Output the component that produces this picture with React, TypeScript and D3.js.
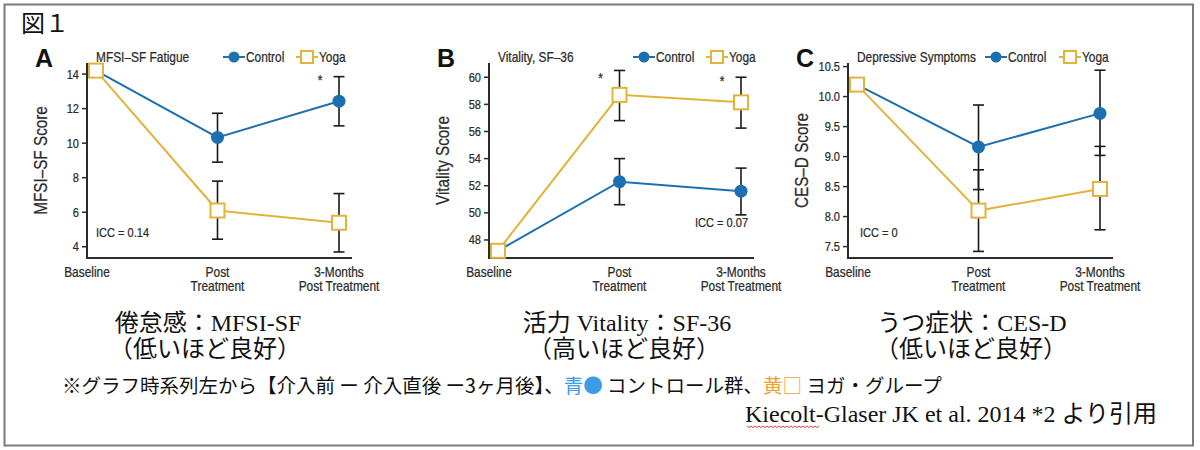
import React from "react";
import * as d3 from "d3";

// ---------- data ----------
const timepoints = ["Baseline", "Post|Treatment", "3-Months|Post Treatment"];

const fatigueControl = [14.2, 10.33, 12.43];
const fatigueControlLo = [null, 8.9, 11.0];
const fatigueControlHi = [null, 11.73, 13.85];
const fatigueYoga = [14.2, 6.1, 5.39];
const fatigueYogaLo = [null, 4.44, 3.7];
const fatigueYogaHi = [null, 7.8, 7.08];
const fatigueTicks = [4, 6, 8, 10, 12, 14];

const vitalityControl = [47.2, 52.3, 51.6];
const vitalityControlLo = [null, 50.6, 49.85];
const vitalityControlHi = [null, 54.0, 53.3];
const vitalityYoga = [47.2, 58.7, 58.15];
const vitalityYogaLo = [null, 56.8, 56.25];
const vitalityYogaHi = [null, 60.5, 60.0];
const vitalityTicks = [48, 50, 52, 54, 56, 58, 60];

const cesdControl = [10.2, 9.16, 9.72];
const cesdControlLo = [null, 8.45, 9.02];
const cesdControlHi = [null, 9.86, 10.44];
const cesdYoga = [10.2, 8.1, 8.46];
const cesdYogaLo = [null, 7.42, 7.78];
const cesdYogaHi = [null, 8.78, 9.17];
const cesdTicks = [7.5, 8.0, 8.5, 9.0, 9.5, 10.0, 10.5];

const BLUE = "#1c70b0";
const YELLOW = "#e2b33a";
const INK = "#2b2b2b";
const SANS = "'Liberation Sans', Arial, Helvetica, sans-serif";
const SERIF = "'Liberation Serif', 'Noto Sans CJK JP', serif";
const JP = "'Noto Sans CJK JP', sans-serif";
const SQ = 0.85;

type CTextProps = {
  x: number;
  y: number;
  size: number;
  anchor?: "start" | "middle" | "end";
  rotate?: number;
  children: React.ReactNode;
};

function CText({ x, y, size, anchor = "start", rotate = 0, children }: CTextProps) {
  return (
    <text
      transform={`translate(${x},${y}) rotate(${rotate}) scale(${SQ},1)`}
      textAnchor={anchor}
      fontFamily={SANS}
      fontSize={size}
      fill={INK}
      stroke={INK}
      strokeWidth={0.25}
    >
      {children}
    </text>
  );
}

type PanelProps = {
  letter: string;
  title: string;
  yTitle: string;
  left: number;
  domain: [number, number];
  ticks: number[];
  tickFmt: (v: number) => string;
  control: number[];
  controlLo: (number | null)[];
  controlHi: (number | null)[];
  yoga: number[];
  yogaLo: (number | null)[];
  yogaHi: (number | null)[];
  stars: number[];
  starY: number[];
  icc: string;
  iccX: number;
  iccY: number;
  legendX: number;
  yogaLegendX: number;
};

function Panel(p: PanelProps) {
  const top = 63;
  const bottom = 258;
  const x = d3.scalePoint<string>().domain(timepoints).range([p.left + 9, p.left + 252]);
  const y = d3.scaleLinear().domain(p.domain).range([bottom, top]);
  const line = d3
    .line<number>()
    .x((_, i) => x(timepoints[i]) as number)
    .y((d) => y(d));
  const errBar = (lo: (number | null)[], hi: (number | null)[], key: string) =>
    lo.map((l, i) => {
      const h = hi[i];
      if (l == null || h == null) return null;
      const cx = x(timepoints[i]) as number;
      return (
        <g key={key + i} stroke="#1a1a1a" strokeWidth={1.6}>
          <line x1={cx} x2={cx} y1={y(l)} y2={y(h)} />
          <line x1={cx - 5.5} x2={cx + 5.5} y1={y(l)} y2={y(l)} />
          <line x1={cx - 5.5} x2={cx + 5.5} y1={y(h)} y2={y(h)} />
        </g>
      );
    });
  const axisRight = p.left + 265;
  return (
    <g>
      <text x={p.left - 52} y={67} fontFamily={SANS} fontWeight="bold" fontSize={25} fill="#111">
        {p.letter}
      </text>
      <CText x={p.left + 9} y={62} size={14}>
        {p.title}
      </CText>
      {/* legend */}
      <line x1={p.legendX} x2={p.legendX + 22} y1={57} y2={57} stroke={BLUE} strokeWidth={2} />
      <circle cx={p.legendX + 11} cy={57} r={5.5} fill={BLUE} />
      <CText x={p.legendX + 23} y={62} size={14}>
        Control
      </CText>
      <line x1={p.yogaLegendX} x2={p.yogaLegendX + 22} y1={57} y2={57} stroke={YELLOW} strokeWidth={2} />
      <rect x={p.yogaLegendX + 5} y={51} width={12} height={12} fill="#fff" stroke={YELLOW} strokeWidth={2} />
      <CText x={p.yogaLegendX + 23} y={62} size={14}>
        Yoga
      </CText>
      {/* y axis title */}
      <CText x={p.left - 40} y={(top + bottom) / 2} size={18} anchor="middle" rotate={-90}>
        {p.yTitle}
      </CText>
      {/* axes */}
      <line x1={p.left} x2={p.left} y1={top} y2={bottom + 1} stroke={INK} strokeWidth={2} />
      <line x1={p.left - 1} x2={axisRight} y1={bottom} y2={bottom} stroke={INK} strokeWidth={2} />
      {p.ticks.map((t) => (
        <g key={t}>
          <line x1={p.left - 5} x2={p.left} y1={y(t)} y2={y(t)} stroke={INK} strokeWidth={1.5} />
          <CText x={p.left - 8} y={y(t) + 4.5} size={13} anchor="end">
            {p.tickFmt(t)}
          </CText>
        </g>
      ))}
      {timepoints.map((t, i) => {
        const parts = t.split("|");
        const cx = i === 0 ? p.left : (x(t) as number);
        return (
          <g key={t}>
            {parts.map((s, j) => (
              <CText key={j} x={cx} y={277 + j * 14} size={14} anchor="middle">
                {s}
              </CText>
            ))}
          </g>
        );
      })}
      <CText x={p.iccX} y={p.iccY} size={13}>
        {p.icc}
      </CText>
      {/* lines */}
      <path d={line(p.control) || ""} fill="none" stroke={BLUE} strokeWidth={2} />
      <path d={line(p.yoga) || ""} fill="none" stroke={YELLOW} strokeWidth={2} />
      {errBar(p.controlLo, p.controlHi, "c")}
      {errBar(p.yogaLo, p.yogaHi, "y")}
      {p.control.map((v, i) => (
        <circle key={"cc" + i} cx={x(timepoints[i]) as number} cy={y(v)} r={6.5} fill={BLUE} />
      ))}
      {p.yoga.map((v, i) => (
        <rect
          key={"yy" + i}
          x={(x(timepoints[i]) as number) - 7}
          y={y(v) - 7}
          width={14}
          height={14}
          fill="#fff"
          stroke={YELLOW}
          strokeWidth={2}
        />
      ))}
      {p.stars.map((si, k) => (
        <CText key={"s" + k} x={(x(timepoints[si]) as number) - 19} y={p.starY[k]} size={14} anchor="middle">
          *
        </CText>
      ))}
    </g>
  );
}

export default function App() {
  const fmt1 = (v: number) => d3.format(".1f")(v);
  const fmt0 = (v: number) => String(v);
  return (
    <svg width={1200} height={450} style={{ position: "absolute", left: 0, top: 0, background: "#fff" }}>
      <rect x={0} y={0} width={1200} height={450} fill="#fff" />
      <rect x={4.5} y={4.5} width={1188.5} height={441} fill="none" stroke="#7a7a7a" strokeWidth={2} />
      <text x={21} y={32} fontFamily={JP} fontSize={24} fill="#111">
        図１
      </text>

      <Panel
        letter="A"
        title="MFSI–SF Fatigue"
        yTitle="MFSI–SF Score"
        left={87}
        domain={[3.35, 14.64]}
        ticks={fatigueTicks}
        tickFmt={fmt0}
        control={fatigueControl}
        controlLo={fatigueControlLo}
        controlHi={fatigueControlHi}
        yoga={fatigueYoga}
        yogaLo={fatigueYogaLo}
        yogaHi={fatigueYogaHi}
        stars={[2]}
        starY={[85]}
        icc="ICC = 0.14"
        iccX={96}
        iccY={237}
        legendX={223}
        yogaLegendX={296}
      />
      <Panel
        letter="B"
        title="Vitality, SF–36"
        yTitle="Vitality Score"
        left={489}
        domain={[46.67, 61.05]}
        ticks={vitalityTicks}
        tickFmt={fmt0}
        control={vitalityControl}
        controlLo={vitalityControlLo}
        controlHi={vitalityControlHi}
        yoga={vitalityYoga}
        yogaLo={vitalityYogaLo}
        yogaHi={vitalityYogaHi}
        stars={[1, 2]}
        starY={[83, 86]}
        icc="ICC = 0.07"
        iccX={695}
        iccY={227}
        legendX={633}
        yogaLegendX={706}
      />
      <Panel
        letter="C"
        title="Depressive Symptoms"
        yTitle="CES–D Score"
        left={848}
        domain={[7.31, 10.56]}
        ticks={cesdTicks}
        tickFmt={fmt1}
        control={cesdControl}
        controlLo={cesdControlLo}
        controlHi={cesdControlHi}
        yoga={cesdYoga}
        yogaLo={cesdYogaLo}
        yogaHi={cesdYogaHi}
        stars={[]}
        starY={[]}
        icc="ICC = 0"
        iccX={860}
        iccY={237}
        legendX={985}
        yogaLegendX={1059}
      />

      {/* captions */}
      <g fontFamily={SERIF} fontSize={24} fill="#111" textAnchor="middle">
        <text x={208} y={331}>倦怠感：MFSI-SF</text>
        <text x={205} y={357}>（低いほど良好）</text>
        <text x={627} y={331}>活力 Vitality：SF-36</text>
        <text x={624} y={357}>（高いほど良好）</text>
        <text x={972} y={331}>うつ症状：CES-D</text>
        <text x={971} y={357}>（低いほど良好）</text>
      </g>
      <text x={62} y={393} fontFamily={JP} fontSize={19.5} fill="#111">
        <tspan>※グラフ時系列左から【介入前 ー 介入直後 ー3ヶ月後】、</tspan>
        <tspan fill="#3a9be6">青●</tspan>
        <tspan> コントロール群、</tspan>
        <tspan fill="#f0a02c">黄□</tspan>
        <tspan> ヨガ・グループ</tspan>
      </text>
      <text x={745} y={422} fontFamily={SERIF} fontSize={24} fill="#111">
        Kiecolt-Glaser JK et al. 2014 *2 より引用
      </text>
      <path
        d={d3.range(0, 37).map((i) => `${i === 0 ? "M" : "L"}${747 + i * 2},${426 + (i % 2 === 0 ? 0 : 1.5)}`).join("")}
        fill="none"
        stroke="#e0404a"
        strokeWidth={1}
      />
    </svg>
  );
}
